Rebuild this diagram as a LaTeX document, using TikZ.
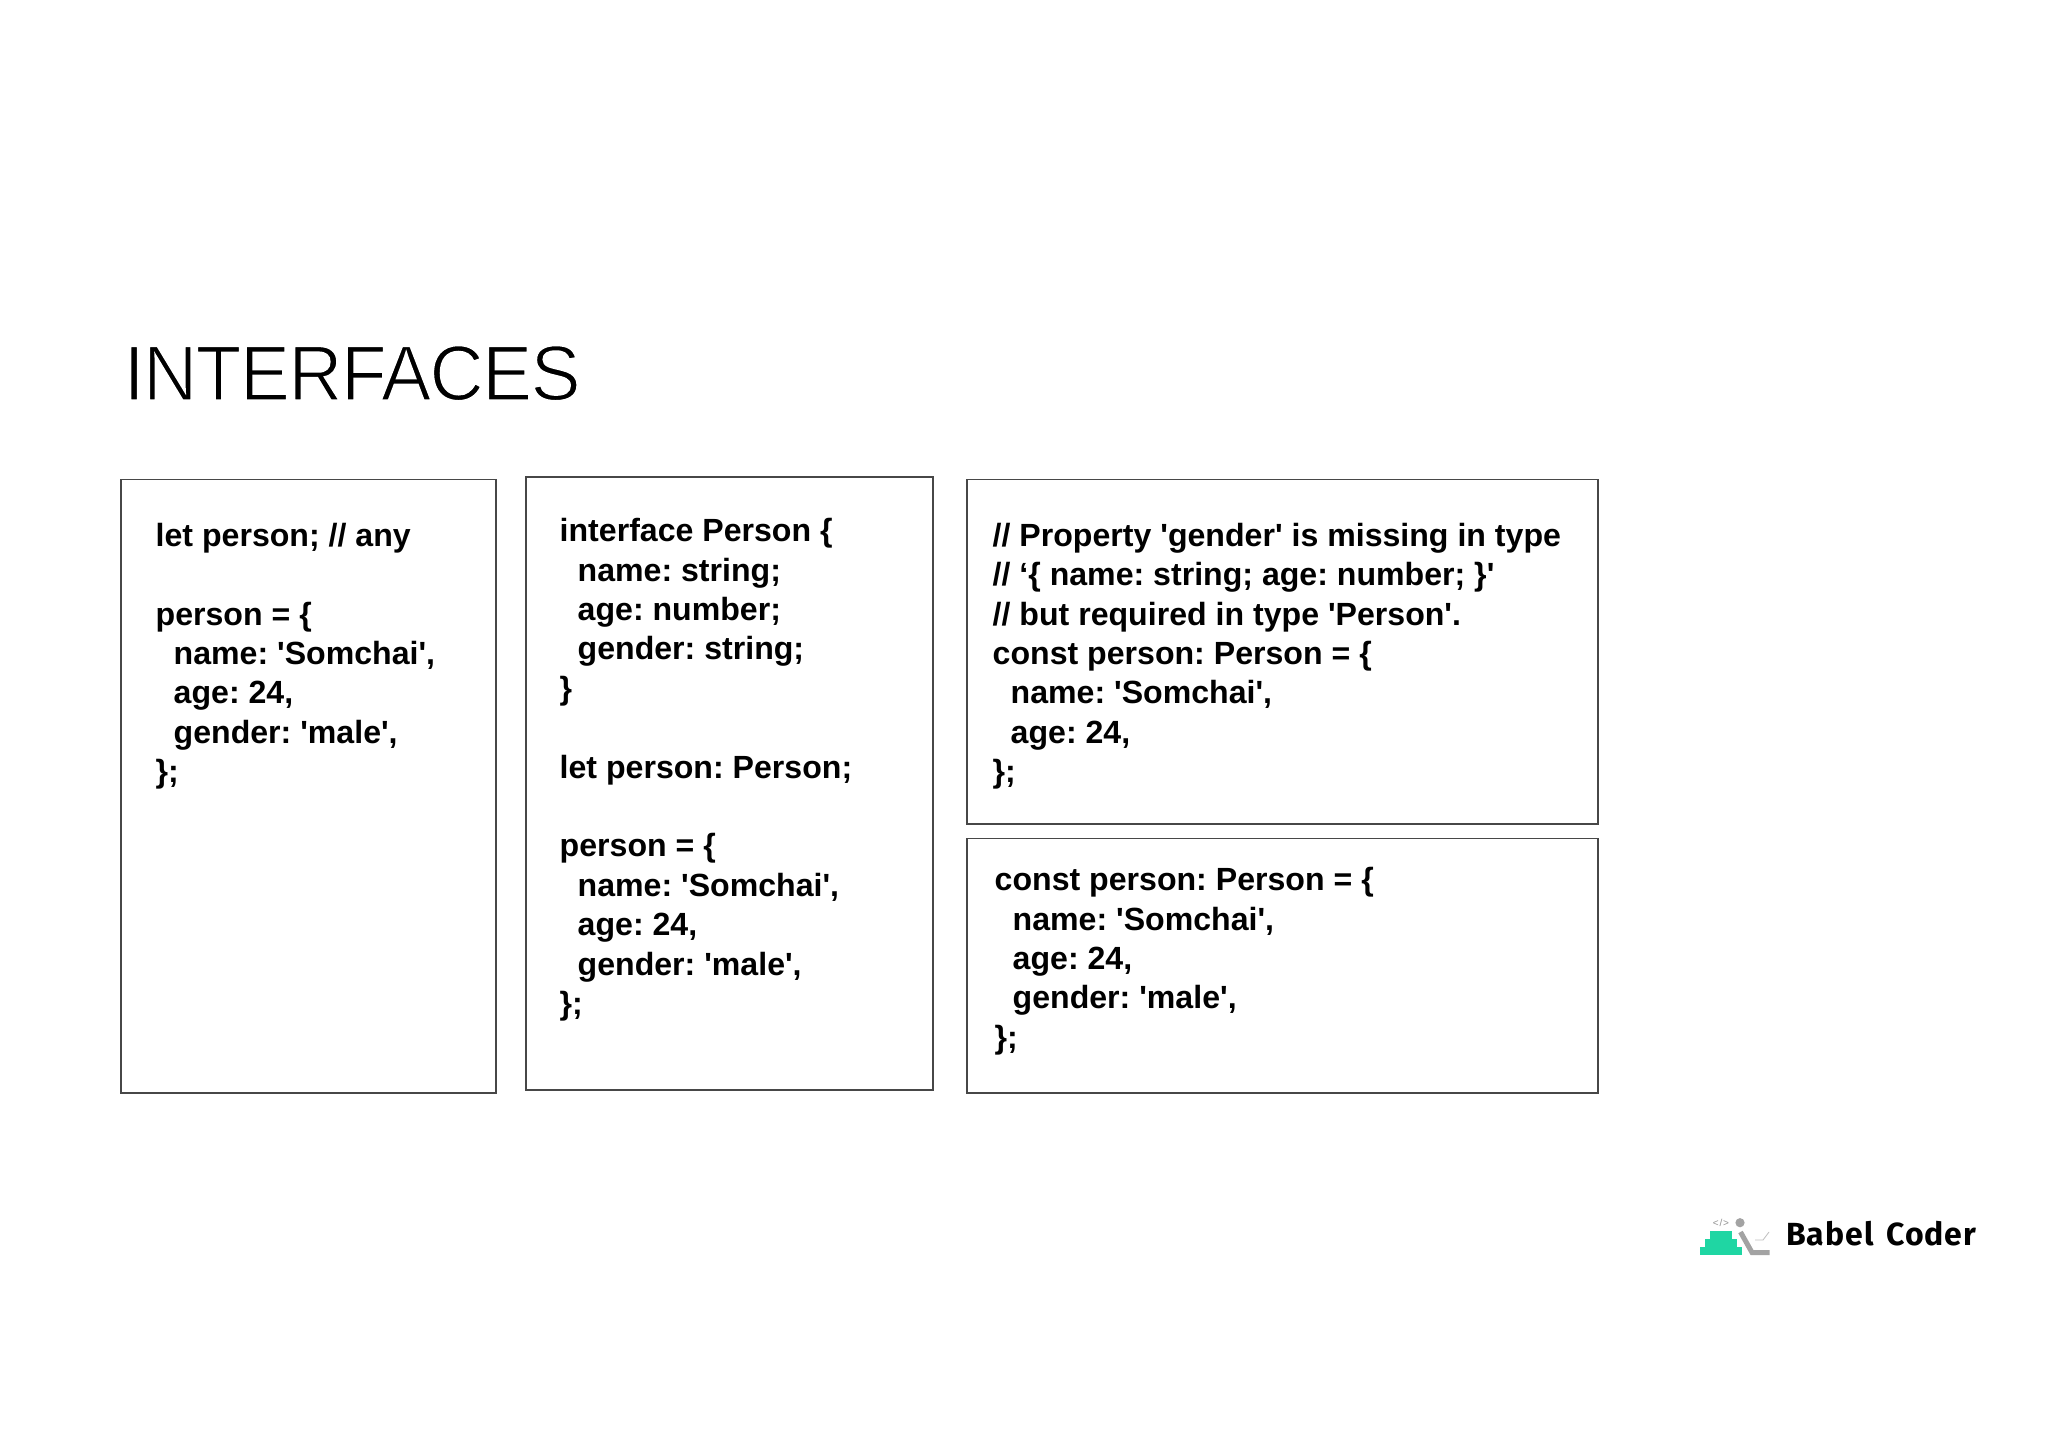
\documentclass[tikz,border=0pt]{standalone}
\usepackage{fontspec}
\newfontfamily\codefont{Liberation Sans}
\newfontfamily\titlefont[FakeStretch=0.96,LetterSpace=-1.9]{Liberation Sans}
\newfontfamily\logofont[LetterSpace=3,WordSpace=1.5]{Fira Sans}
\newfontfamily\tagfont[LetterSpace=8]{Liberation Sans}
\definecolor{boxline}{gray}{0.28}
\definecolor{teal1}{HTML}{1FD6A3}
\definecolor{logogray}{HTML}{A3A3A3}
\tikzset{
  x=1pt,y=-1pt,
  codebox/.style={draw=boxline,line width=1.4pt},
  code/.style={anchor=north west,inner sep=0pt,align=left,text=black,font=\codefont\bfseries\frenchspacing\fontsize{32.1}{39.4}\selectfont},
  tier/.style={fill=teal1,draw=none}
}
\newcommand{\ind}{\hspace*{18pt}}
\begin{document}
\begin{tikzpicture}
\useasboundingbox (0,0) rectangle (2048,1448);
\fill[white] (0,0) rectangle (2048,1448);
\node[anchor=base west,inner sep=0pt] (title) at (123.5,400) {\titlefont\fontsize{78}{80}\selectfont\special{pdf:code 2 Tr 1.5 w 1 1 1 RG}INTERFACES\special{pdf:code 0 Tr 0 w 0 0 0 RG}};
\draw[codebox] (121,479.5) rectangle (496,1093);
\draw[codebox] (526,477) rectangle (933,1090);
\draw[codebox] (967,479.5) rectangle (1598,824);
\draw[codebox] (967,838.5) rectangle (1598,1093);
\node[code] (c1) at (155.5,518.5) {\strut let person; // any\\ \\person = \{\\\ind name: 'Somchai',\\\ind age: 24,\\\ind gender: 'male',\\\};};
\node[code] (c2) at (559.5,514) {\strut interface Person \{\\\ind name: string;\\\ind age: number;\\\ind gender: string;\\\}\\ \\let person: Person;\\ \\person = \{\\\ind name: 'Somchai',\\\ind age: 24,\\\ind gender: 'male',\\\};};
\node[code] (c3) at (992.5,518.5) {\strut // Property 'gender' is missing in type\\// ‘\{ name: string; age: number; \}'\\// but required in type 'Person'.\\const person: Person = \{\\\ind name: 'Somchai',\\\ind age: 24,\\\};};
\node[code] (c4) at (994.5,863) {\strut const person: Person = \{\\\ind name: 'Somchai',\\\ind age: 24,\\\ind gender: 'male',\\\};};
% logo
\fill[tier] (1700,1247.3) rectangle (1742,1255);
\fill[tier] (1705,1239.3) rectangle (1737,1246.8);
\fill[tier] (1710,1231) rectangle (1732,1238.8);
\node[inner sep=0pt,text=logogray!90!black] (tag) at (1721,1223) {\fontsize{10}{10}\selectfont\tagfont </>};
\fill[logogray] (1740,1222.7) circle (4.6);
\draw[logogray,line width=5pt,line join=miter] (1740.5,1232) -- (1752,1252.5) -- (1769.5,1252.5);
\draw[logogray!70,line width=0.8pt] (1755,1240) -- (1763,1240) -- (1769,1232);
\node[anchor=base west,inner sep=0pt,text=black] (logo) at (1786,1245) {\logofont\bfseries\fontsize{32}{34}\selectfont Babel Coder};
\end{tikzpicture}
\end{document}
